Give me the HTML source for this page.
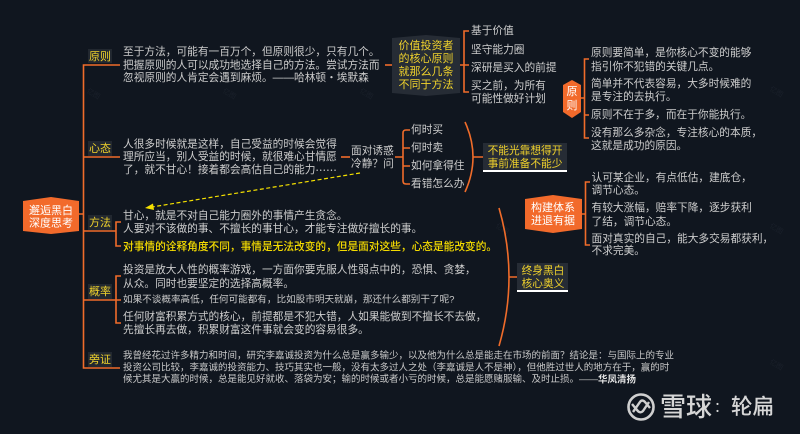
<!DOCTYPE html>
<html lang="zh-CN"><head><meta charset="utf-8">
<style>
html,body{margin:0;padding:0;background:#10161f;width:800px;height:434px;overflow:hidden}
svg{display:block;filter:blur(.25px)}
text{font-family:"Liberation Sans","Noto Sans CJK SC",sans-serif;dominant-baseline:central}
.t{fill:#cdcdcd;font-size:10.7px}
.s{fill:#c9c9c9;font-size:9.6px}
.y{fill:#f0d22c;font-size:11px;text-anchor:middle}
.b{fill:#f5dc00;font-size:10.7px;font-weight:bold}
.w{fill:#fff;font-size:11px;text-anchor:middle}
.l{fill:none;stroke:#f06c2a;stroke-width:1.6}
.m{fill:#1b212b;font-size:7px}
</style></head><body>
<svg width="800" height="434" viewBox="0 0 800 434" xmlns="http://www.w3.org/2000/svg">
<rect width="800" height="434" fill="#10161f"/>

<!-- faint watermarks -->
<g class="m">
<text class="m" transform="translate(87,91) rotate(30)">亿图</text>
<text class="m" transform="translate(223,91) rotate(30)">亿图</text>
<text class="m" transform="translate(360,91) rotate(30)">亿图</text>
<text class="m" transform="translate(770,89) rotate(30)">亿图</text>
<text class="m" transform="translate(496,226) rotate(30)">亿图</text>
<text class="m" transform="translate(770,226) rotate(30)">亿图</text>
<text class="m" transform="translate(770,362) rotate(30)">亿图</text>
</g>

<!-- main spine -->
<path class="l" d="M120 65H83.5V368H120M83.5 157H120M83.5 231H116M83.5 300H121M79 214H83.5"/>
<path class="l" d="M121 222H116V246H121M121 276H116V323H121"/>

<!-- root -->
<polygon points="23,201 51,197 79,201 79,231 51,234 23,231" fill="#f26a2b"/>
<text class="w" x="51" y="211">邂逅黑白</text>
<text class="w" x="51" y="223.5">深度思考</text>

<!-- branch labels -->
<g fill="#222830">
<rect x="88" y="49" width="24" height="14"/>
<rect x="88" y="141" width="24" height="15"/>
<rect x="88" y="215" width="24" height="15"/>
<rect x="88" y="284" width="24" height="15"/>
<rect x="88" y="352" width="24" height="15"/>
</g>
<text class="y" x="100" y="57">原则</text>
<text class="y" x="100" y="149">心态</text>
<text class="y" x="100" y="223">方法</text>
<text class="y" x="100" y="292">概率</text>
<text class="y" x="100" y="360">旁证</text>

<!-- 原则 text -->
<text class="t" x="123" y="52">至于方法，可能有一百万个，但原则很少，只有几个。</text>
<text class="t" x="123" y="65.5">把握原则的人可以成功地选择自己的方法。尝试方法而</text>
<text class="t" x="123" y="78">忽视原则的人肯定会遇到麻烦。——哈林顿・埃默森</text>

<path class="l" d="M385 65H392"/>
<polygon points="392,38 426,35 460,38 460,93 426,96 392,93" fill="#262c35"/>
<g class="y" >
<text class="y" x="426" y="46">价值投资者</text>
<text class="y" x="426" y="59">的核心原则</text>
<text class="y" x="426" y="72">就那么几条</text>
<text class="y" x="426" y="85">不同于方法</text>
</g>
<path class="l" d="M460 65H464M469 31H464V92H469M464 65H469"/>
<text class="t" x="471" y="31">基于价值</text>
<text class="t" x="471" y="50">坚守能力圈</text>
<text class="t" x="471" y="68">深研是买入的前提</text>
<text class="t" x="471" y="86">买之前，为所有</text>
<text class="t" x="471" y="99">可能性做好计划</text>

<!-- 原则 hexagon -->
<polygon points="572,80 581,85 581,112 572,118 563,112 563,85" fill="#f26a2b"/>
<text class="w" x="572" y="92">原</text>
<text class="w" x="572" y="106">则</text>
<path class="l" d="M581 98H584.5M589 59H584.5V138H589M584.5 115H589"/>
<text class="t" x="591" y="53">原则要简单，是你核心不变的能够</text>
<text class="t" x="591" y="67">指引你不犯错的关键几点。</text>
<text class="t" x="591" y="84">简单并不代表容易，大多时候难的</text>
<text class="t" x="591" y="97">是专注的去执行。</text>
<text class="t" x="591" y="115">原则不在于多，而在于你能执行。</text>
<text class="t" x="591" y="133">没有那么多杂念，专注核心的本质，</text>
<text class="t" x="591" y="146">这就是成功的原因。</text>

<!-- 心态 text -->
<text class="t" x="123" y="144.5">人很多时候就是这样，自己受益的时候会觉得</text>
<text class="t" x="123" y="157">理所应当，别人受益的时候，就很难心甘情愿</text>
<text class="t" x="123" y="170">了，就不甘心！接着都会高估自己的能力<tspan style="font-family:'Noto Sans CJK SC',sans-serif">……</tspan></text>
<path class="l" d="M341 157H350"/>
<text class="t" x="351" y="151">面对诱惑</text>
<text class="t" x="351" y="164">冷静？问</text>
<path class="l" d="M395 157H403M410 130H406Q403 130 403 133V181Q403 184 406 184H410M403 148H410M403 166H410"/>
<text class="t" x="411" y="130">何时买</text>
<text class="t" x="411" y="148">何时卖</text>
<text class="t" x="411" y="166">如何拿得住</text>
<text class="t" x="411" y="184">看错怎么办</text>
<path class="l" d="M465 122Q481 157 465 192M473 157H483"/>
<rect x="483" y="143" width="84" height="28" fill="#262c35"/>
<rect x="483" y="170" width="84" height="2" fill="#fff"/>
<text class="y" x="525" y="151" style="font-size:10.7px">不能光靠想得开</text>
<text class="y" x="525" y="164" style="font-size:10.7px">事前准备不能少</text>

<!-- dashed arrow -->
<path d="M360 173L152 207" fill="none" stroke="#f5e000" stroke-width="1.2" stroke-dasharray="4 2.5"/>
<polygon points="145,208 153,203.5 154,210" fill="#f5e000"/>

<!-- 方法 text -->
<text class="t" x="123" y="216">甘心，就是不对自己能力圈外的事情产生贪念。</text>
<text class="t" x="123" y="229">人要对不该做的事、不擅长的事甘心，才能专注做好擅长的事。</text>
<text class="b" x="123" y="247" style="font-weight:500">对事情的诠释角度不同，事情是无法改变的，但是面对这些，心态是能改变的。</text>

<!-- 概率 text -->
<text class="t" x="123" y="270">投资是放大人性的概率游戏，一方面你要克服人性弱点中的，恐惧、贪婪，</text>
<text class="t" x="123" y="284">从众。同时也要坚定的选择高概率。</text>
<text class="s" x="123" y="300">如果不谈概率高低，任何可能都有，比如股市明天就崩，那还什么都别干了呢?</text>
<text class="t" x="123" y="317">任何财富积累方式的核心，前提都是不犯大错，人如果能做到不擅长不去做，</text>
<text class="t" x="123" y="330">先擅长再去做，积累财富这件事就会变的容易很多。</text>

<!-- 旁证 text -->
<text class="s" style="font-size:9.5px" x="123" y="356">我曾经花过许多精力和时间，研究李嘉诚投资为什么总是赢多输少，以及他为什么总是能走在市场的前面？结论是：与国际上的专业</text>
<text class="s" style="font-size:9.5px" x="123" y="368">投资公司比较，李嘉诚的投资能力、技巧其实也一般，没有太多过人之处（李嘉诚是人不是神），但他胜过世人的地方在于，赢的时</text>
<text class="s" style="font-size:9.5px" x="123" y="379.5">候尤其是大赢的时候，总是能见好就收、落袋为安；输的时候或者小亏的时候，总是能愿赌服输、及时止损。——<tspan font-weight="bold" fill="#e4e4e4">华凤清扬</tspan></text>

<!-- 构建体系 -->
<polygon points="525,199 553,195 582,199 582,229 553,233 525,229" fill="#f26a2b"/>
<text class="w" x="553" y="208">构建体系</text>
<text class="w" x="553" y="221">进退有据</text>
<path class="l" d="M582 214H585.5M590 182H585.5V245H590"/>
<text class="t" x="591.5" y="178">认可某企业，有点低估，建底仓，</text>
<text class="t" x="591.5" y="190.5">调节心态。</text>
<text class="t" x="591.5" y="208">有较大涨幅，赔率下降，逐步获利</text>
<text class="t" x="591.5" y="222">了结，调节心态。</text>
<text class="t" x="591.5" y="239">面对真实的自己，能大多交易都获利，</text>
<text class="t" x="591.5" y="251">不求完美。</text>

<!-- 终身黑白 -->
<path class="l" d="M499 208Q519 277 499 346M509 277H517"/>
<rect x="517" y="263" width="51" height="28" fill="#262c35"/>
<rect x="517" y="290" width="51" height="2" fill="#fff"/>
<text class="y" x="543" y="271" style="font-size:10.7px">终身黑白</text>
<text class="y" x="543" y="284" style="font-size:10.7px">核心奥义</text>

<!-- logo -->
<circle cx="641" cy="407" r="12.5" fill="none" stroke="#cfcfcf" stroke-width="2.6"/>
<path d="M633 412L640 402Q642 399 645 402L650 408M632 404L637 410Q640 414 643 411L649 402" fill="none" stroke="#cfcfcf" stroke-width="2.4"/>
<text x="660" y="407" fill="#d6d6d6" font-size="26" font-weight="500">雪球</text>
<text x="714" y="407" fill="#d6d6d6" font-size="14">：</text>
<text x="731" y="407" fill="#d6d6d6" font-size="21.5" font-weight="500">轮扁</text>
</svg>
</body></html>
